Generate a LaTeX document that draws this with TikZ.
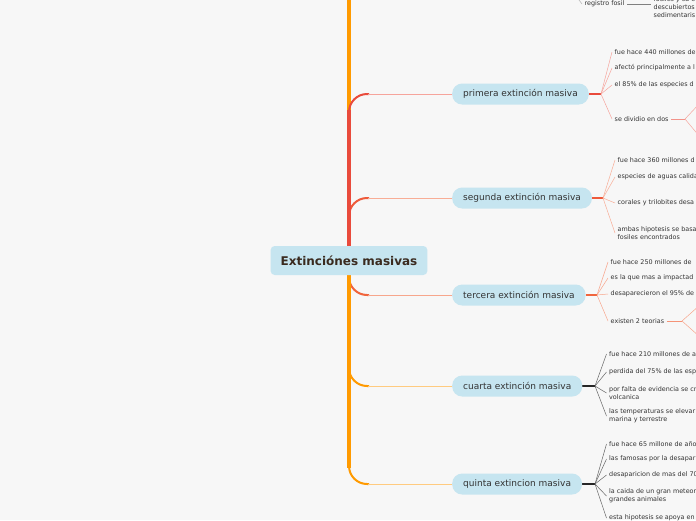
\documentclass[tikz,border=0pt]{standalone}
\usepackage{fontspec}
\setmainfont{DejaVu Sans}
\usetikzlibrary{calc,backgrounds}

\definecolor{fondo}{HTML}{F7F7F7}
\definecolor{celeste}{HTML}{C6E5F0}
\definecolor{texto}{HTML}{333333}
\definecolor{marron}{HTML}{3A2A1F}
\definecolor{naranja}{HTML}{FF9A00}
\definecolor{rojoP}{HTML}{E94B3C}
\definecolor{rojoS}{HTML}{EE5A3B}
\definecolor{rojoT}{HTML}{F0653D}
\definecolor{ramaP}{HTML}{F6A49C}
\definecolor{ramaS}{HTML}{F8AD96}
\definecolor{ramaT}{HTML}{F7A68C}
\definecolor{ramaC}{HTML}{FFCB80}

\begin{document}
\begin{tikzpicture}[x=1pt,y=-1pt]
    \tikzset{tema/.style={fill=celeste, rounded corners=4pt, text=marron, font=\bfseries\fontsize{12}{14}\selectfont, inner xsep=10pt, minimum height=29pt},
             rama/.style={fill=celeste, rounded corners=10pt, text=texto, font=\fontsize{9}{11}\selectfont, inner xsep=11pt, minimum height=21pt, anchor=west},
             hoja/.style={anchor=west, inner xsep=2.5pt, inner ysep=0pt, text=texto, font=\fontsize{6.4}{7.8}\selectfont, align=left},
             abanico/.style={line width=0.5pt},
             tallo/.style={line width=1.4pt}}

    \useasboundingbox (0,0) rectangle (696,520);
    \clip (0,0) rectangle (696,520);

    % Tema central
    \node[tema] (centro) at (349,260.5) {Extinciónes masivas};
    \coordinate (arriba) at (349,-20);

    % Ramas principales
    \node[rama] (primera) at (452,94) {primera extinción masiva};
    \node[rama] (segunda) at (452,198) {segunda extinción masiva};
    \node[rama] (tercera) at (452,295) {tercera extinción masiva};
    \node[rama] (cuarta) at (452,386) {cuarta extinción masiva};
    \node[rama] (quinta) at (452,484) {quinta extincion masiva};

    % Arriba (rama cortada)
    \coordinate (f0) at (570,-12);
    \node[hoja] (registro) at (582,4) {registro fosil};
    \node[hoja] (fosiles) at (651,7) {fosiles y su e\\descubiertos\\sedimentaris};

    % Primera
    \coordinate (fP) at (601,94);
    \node[hoja] (p1) at (612,52) {fue hace 440 millones de};
    \node[hoja] (p2) at (612,68) {afectó principalmente a l};
    \node[hoja] (p3) at (612,85) {el 85\% de las especies d};
    \node[hoja] (p4) at (612,119) {se dividio en dos};
    \coordinate (fP4) at (685,119);
    \coordinate (p4a) at (700,103);
    \coordinate (p4b) at (700,137);

    % Segunda
    \coordinate (fS) at (603,198);
    \node[hoja] (s1) at (615,160) {fue hace 360 millones d};
    \node[hoja] (s2) at (615,177) {especies de aguas calida};
    \node[hoja] (s3) at (615,203) {corales y trilobites desa};
    \node[hoja] (s4) at (615,233) {ambas hipotesis se basa\\fosiles encontrados};

    % Tercera
    \coordinate (fT) at (597,295);
    \node[hoja] (t1) at (608,262) {fue hace 250 millones de};
    \node[hoja] (t2) at (608,278) {es la que mas a impactad};
    \node[hoja] (t3) at (608,294) {desaparecieron el 95\% de};
    \node[hoja] (t4) at (608,321) {existen 2 teorias};
    \coordinate (fT4) at (682,321);
    \coordinate (t4a) at (700,305);
    \coordinate (t4b) at (700,337);

    % Cuarta
    \coordinate (fC) at (595,386);
    \node[hoja] (c1) at (606.5,354) {fue hace 210 millones de a};
    \node[hoja] (c2) at (606.5,372) {perdida del 75\% de las esp};
    \node[hoja] (c3) at (606.5,393) {por falta de evidencia se cr\\volcanica};
    \node[hoja] (c4) at (606.5,416) {las temperaturas se elevar\\marina y terrestre};

    % Quinta
    \coordinate (fQ) at (595,484);
    \node[hoja] (q1) at (606.5,444) {fue hace 65 millone de año};
    \node[hoja] (q2) at (606.5,459) {las famosas por la desapar};
    \node[hoja] (q3) at (606.5,475) {desaparicion de mas del 70};
    \node[hoja] (q4) at (606.5,496) {la caida de un gran meteor\\grandes animales};
    \node[hoja] (q5) at (606.5,518) {esta hipotesis se apoya en};

    \begin{scope}[on background layer]
        \clip (0,0) rectangle (696,520);
        \fill[fondo] (0,0) rectangle (696,520);

        % Tronco
        \draw[line width=4.5pt, naranja] (centro.center) -- (arriba);
        \foreach \r/\c/\l in {tercera/rojoT/ramaT, cuarta/naranja/ramaC, quinta/naranja/ramaC, segunda/rojoS/ramaS, primera/rojoP/ramaP}{
            \coordinate (esq) at (centro.center |- \r.west);
            \draw[line width=4.5pt, \c] (centro.center) -- ($(esq)!16pt!(centro.center)$);
            \draw[line width=2pt, \c, rounded corners=18pt] ($(esq)!17pt!(centro.center)$) |- ($(esq)+(20,0)$);
            \draw[line width=0.9pt, \l] ($(esq)+(19,0)$) -- (\r.west);
        }

        % Abanicos
        \draw[abanico, gray!60] (f0) -- (registro.west);
        \draw[abanico, gray] (registro.east) -- (registro.east -| fosiles.west);

        \draw[tallo, rojoP] (primera.east) -- (fP);
        \foreach \h in {p1,p2,p3,p4} \draw[abanico, ramaP] (fP) -- (\h.west);
        \draw[line width=1pt, rojoP!60] (p4.east) -- (fP4);
        \draw[abanico, ramaP] (fP4) -- (p4a);
        \draw[abanico, ramaP] (fP4) -- (p4b);

        \draw[tallo, rojoS] (segunda.east) -- (fS);
        \foreach \h in {s1,s2,s3,s4} \draw[abanico, ramaS] (fS) -- (\h.west);

        \draw[tallo, rojoT] (tercera.east) -- (fT);
        \foreach \h in {t1,t2,t3,t4} \draw[abanico, ramaT] (fT) -- (\h.west);
        \draw[line width=1pt, rojoT!70] (t4.east) -- (fT4);
        \draw[abanico, ramaT] (fT4) -- (t4a);
        \draw[abanico, ramaT] (fT4) -- (t4b);

        \draw[tallo, black!85] (cuarta.east) -- (fC);
        \foreach \h in {c1,c2,c3,c4} \draw[abanico, black!60] (fC) -- (\h.west);

        \draw[tallo, black!85] (quinta.east) -- (fQ);
        \foreach \h in {q1,q2,q3,q4,q5} \draw[abanico, black!60] (fQ) -- (\h.west);
    \end{scope}
\end{tikzpicture}
\end{document}
